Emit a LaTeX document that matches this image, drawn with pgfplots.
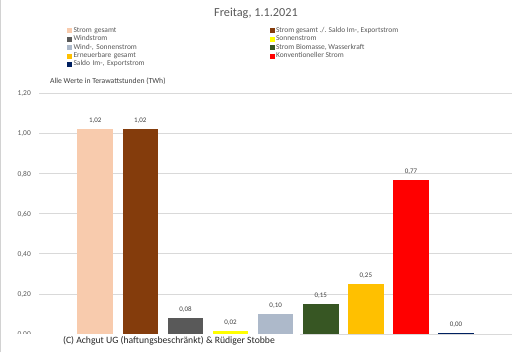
\documentclass[border=0pt]{standalone}
\usepackage{pgfplots}
\pgfplotsset{compat=1.18}
\usepackage{fontspec}
\setmainfont{Carlito}
\definecolor{c1}{HTML}{F8CBAD}
\definecolor{c2}{HTML}{843C0C}
\definecolor{c3}{HTML}{595959}
\definecolor{c4}{HTML}{FFFF00}
\definecolor{c5}{HTML}{ADB9CA}
\definecolor{c6}{HTML}{375623}
\definecolor{c7}{HTML}{FFC000}
\definecolor{c8}{HTML}{FF0000}
\definecolor{c9}{HTML}{002060}
\definecolor{gridgray}{HTML}{D9D9D9}
\definecolor{legtext}{HTML}{595959}
\definecolor{labtext}{HTML}{404040}
\begin{document}
\begin{tikzpicture}[x=1bp,y=1bp]
\useasboundingbox (0,0) rectangle (512,355);
\fill[white] (0,0) rectangle (512,355);
\draw[gray!35, line width=0.8bp] (0.6,3) -- (0.6,355);
\begin{axis}[
  at={(39bp,21bp)}, anchor=south west,
  scale only axis, width=473bp, height=240.7bp,
  xmin=-1.246, xmax=9.24, ymin=0, ymax=1.2,
  xtick=\empty,
  ytick={0,0.2,0.4,0.6,0.8,1,1.2},
  scaled y ticks=false,
  ymajorgrids, major grid style={gridgray, line width=0.75bp},
  axis x line*=bottom, axis y line*=left,
  x axis line style={draw=gridgray, line width=0.75bp, -},
  y axis line style={draw=none},
  major tick length=0pt,
  /pgf/number format/fixed, /pgf/number format/fixed zerofill,
  /pgf/number format/precision=2, /pgf/number format/use comma,
  /pgf/number format/assume math mode=true,
  yticklabel style={font=\fontsize{7.5}{8}\selectfont, text=legtext, anchor=east, inner sep=0pt, xshift=-8bp, yshift=-0.5bp},
  nodes near coords,
  every node near coord/.append style={font=\fontsize{7}{8}\selectfont, text=labtext, anchor=center, yshift=8.5bp},
  legend columns=2,
  legend cell align=left,
  legend style={at={(axis description cs:0.0592,1.2763)}, anchor=north west, draw=none, fill=none,
    inner sep=0pt, outer sep=0pt, font=\fontsize{7.5}{8}\selectfont, text=legtext,
    nodes={inner sep=0pt, text height=5.6bp, text depth=2.8bp},
    /tikz/column 1/.style={column sep=1.5bp},
    /tikz/column 2/.style={nodes={text width=196bp}},
    /tikz/column 3/.style={column sep=1.5bp}},
  mybar/.style={ybar, bar width=35.5bp, bar shift=0pt, draw=none, fill=#1,
    legend image code/.code={\fill[fill=#1] (0bp,-2.5bp) rectangle (5bp,2.5bp);}},
]
\addplot[mybar=c1] coordinates {(0,1.02)};
\addlegendentry{Strom gesamt}
\addplot[mybar=c2] coordinates {(1,1.02)};
\addlegendentry{Strom gesamt ./. Saldo Im-, Exportstrom}
\addplot[mybar=c3] coordinates {(2,0.078)};
\addlegendentry{Windstrom}
\addplot[mybar=c4] coordinates {(3,0.016)};
\addlegendentry{Sonnenstrom}
\addplot[mybar=c5] coordinates {(4,0.10)};
\addlegendentry{Wind-, Sonnenstrom}
\addplot[mybar=c6] coordinates {(5,0.15)};
\addlegendentry{Strom Biomasse, Wasserkraft}
\addplot[mybar=c7] coordinates {(6,0.25)};
\addlegendentry{Erneuerbare gesamt}
\addplot[mybar=c8] coordinates {(7,0.768)};
\addlegendentry{Konventioneller Strom}
\addplot[mybar=c9] coordinates {(8,0.004)};
\addlegendentry{Saldo Im-, Exportstrom}
\end{axis}
\node[font=\fontsize{12.3}{14}\selectfont, text=legtext] at (256,342) {Freitag, 1.1.2021};
\node[font=\fontsize{7.7}{9}\selectfont, text=labtext, anchor=west, inner sep=0pt] at (50,274) {Alle Werte in Terawattstunden (TWh)};
\fill[white] (8,3) rectangle (300,21.5);
\node[font=\fontsize{9.7}{11}\selectfont, text={black!85}] at (169,14) {(C) Achgut UG (haftungsbeschränkt) \& Rüdiger Stobbe};
\end{tikzpicture}
\end{document}
